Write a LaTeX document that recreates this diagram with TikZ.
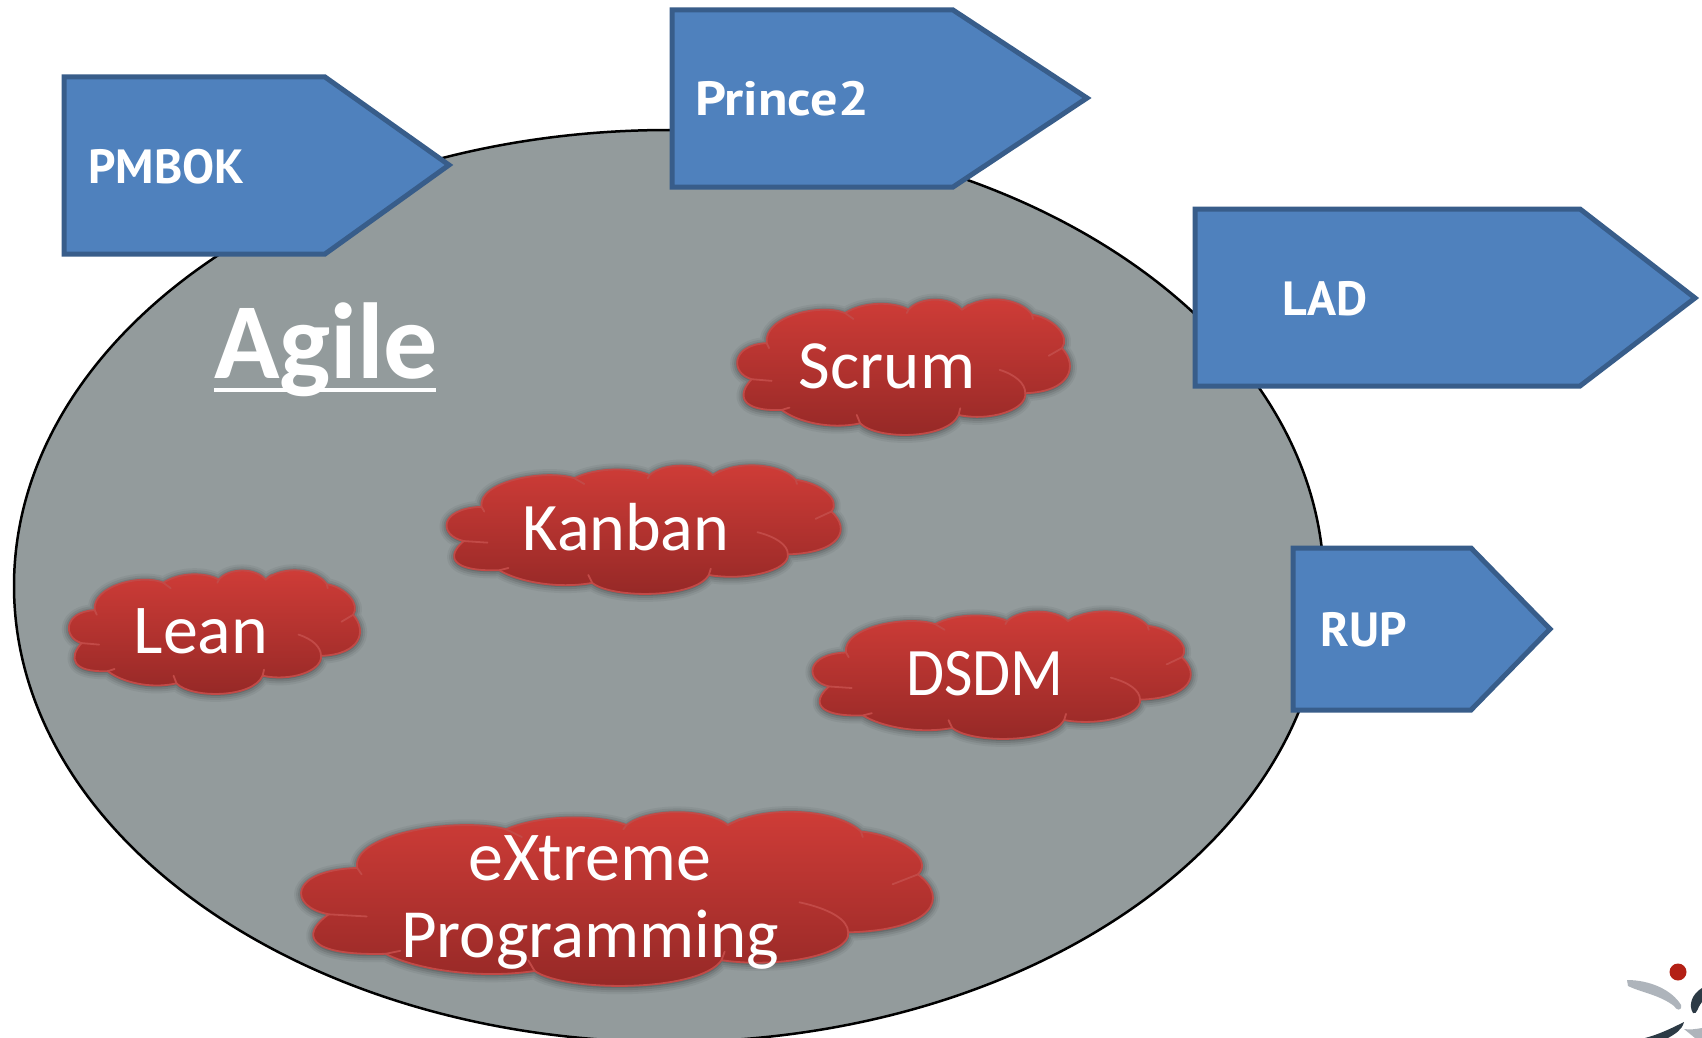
\documentclass[tikz,border=0pt]{standalone}
\usepackage{fontspec}
\usepackage{graphicx}
\setmainfont{Carlito}
\newfontfamily\boxfont{PT Sans}
\newcommand{\cloudoutline}{(140,190) .. controls (130,110) and (300,70) .. (375,100)
 .. controls (430,65) and (520,65) .. (565,90)
 .. controls (600,50) and (690,50) .. (725,90)
 .. controls (790,40) and (900,55) .. (935,105)
 .. controls (1000,115) and (1050,170) .. (1025,205)
 .. controls (1075,260) and (1050,335) .. (915,340)
 .. controls (920,390) and (810,425) .. (715,405)
 .. controls (680,480) and (470,480) .. (420,430)
 .. controls (330,450) and (230,425) .. (185,390)
 .. controls (60,395) and (50,345) .. (95,298)
 .. controls (30,280) and (32,195) .. (140,190) -- cycle}
\newcommand{\cloudshape}[5]{%
\begin{scope}[shift={(#2,#3)},xscale=#4/1007,yscale=#5/410,shift={(-45,-55)}]
 \foreach \wd/\op in {14/0.05,10/0.07,6/0.09,2/0.12}{
  \draw[black,opacity=\op,line width=\wd pt,line join=round,yshift=-3pt] \cloudoutline;
 }
 \shade[top color=cloudtop,bottom color=cloudbot] \cloudoutline;
 \draw[cloudline] \cloudoutline;
 \draw[cloudline] (140,190)--(147,205) (375,100)--(400,118) (725,90)--(745,75)
  (1025,205)--(985,228) (838,270) .. controls (885,285) and (915,310) .. (915,340)
  (715,405)--(720,385) (420,430)--(410,405) (185,390)--(208,383) (95,298)--(155,303)
  (565,90)--(560,100) (935,105)--(938,118);
\end{scope}}
\definecolor{cloudtop}{HTML}{D13D38}
\definecolor{cloudbot}{HTML}{942826}
\definecolor{cloudedge}{HTML}{C24A47}
\definecolor{boxfill}{HTML}{4F81BD}
\definecolor{boxedge}{HTML}{385D8A}
\definecolor{ovalfill}{HTML}{939B9C}
\definecolor{markgrey}{HTML}{AEB4BB}
\definecolor{markdark}{HTML}{2C3A45}
\definecolor{markred}{HTML}{B32015}
\tikzset{
 cloudline/.style={cloudedge,line width=1.8pt,line cap=round,line join=round},
 arrowbox/.style={fill=boxfill,draw=boxedge,line width=5pt,line join=miter},
 boxlabel/.style={text=white,anchor=base west,inner sep=0pt,font=\boxfont\fontsize{48}{48}\selectfont\bfseries},
 cloudlabel/.style={text=white,anchor=base,inner sep=0pt,align=center,font=\fontsize{#1}{#1}\selectfont},
 cloudlabel/.default=70,
}
\begin{document}
\begin{tikzpicture}[x=1pt,y=-1pt]
\useasboundingbox (0,0) rectangle (1702,1038);
\fill[white] (0,0) rectangle (1702,1038);
\begin{scope}
\clip (0,0) rectangle (1702,1038);
\draw[fill=ovalfill,draw=black,line width=2.5pt] (669,586) ellipse [x radius=655,y radius=456];
\end{scope}
\node[text=white,anchor=base west,inner sep=0pt,font=\fontsize{108}{108}\selectfont\bfseries] (agile) at (214,378) {Agile};
\draw[white,line width=3.5pt] (214,390) -- (436,390);
\cloudshape{scrum}{735}{298}{336}{137}
\cloudshape{kanban}{444}{464}{398}{130}
\cloudshape{lean}{67}{569}{294}{125}
\cloudshape{dsdm}{810}{610}{382}{129}
\cloudshape{xp}{297}{810}{638}{176}
\node[cloudlabel=69] (tscrum) at (887,388) {Scrum};
\node[cloudlabel=68] (tkanban) at (626,550) {Kanban};
\node[cloudlabel] (tlean) at (201,653) {Lean};
\node[cloudlabel=68] (tdsdm) at (985,695) {\scalebox{0.91}[1]{DSDM}};
\node[cloudlabel] (txp1) at (590,880) {eXtreme};
\node[cloudlabel=69] (txp2) at (590,957) {Programming};
\draw[arrowbox] (64,77)--(325,77)--(449,165)--(325,254)--(64,254)--cycle;
\draw[arrowbox] (672,10)--(953,10)--(1087,98)--(953,187)--(672,187)--cycle;
\draw[arrowbox] (1195,209)--(1580,209)--(1695,298)--(1580,386)--(1195,386)--cycle;
\draw[arrowbox] (1293,548)--(1471,548)--(1550,629)--(1471,710)--(1293,710)--cycle;
\node[boxlabel] (pmbok) at (88,183) {PMBOK};
\node[boxlabel] (prince) at (695,116) {\scalebox{1.13}[1]{Prince2}};
\node[boxlabel] (lad) at (1282,315) {LAD};
\node[boxlabel] (rup) at (1320,646) {RUP};
\fill[markred] (1678,972) circle (8.5);
\fill[markgrey] (1627,980) .. controls (1650,980) and (1672,990) .. (1681,1005) .. controls (1682,1012) and (1676,1010) .. (1674,1006) .. controls (1660,995) and (1640,992) .. (1628,986) -- cycle;
\fill[markdark] (1702,988) .. controls (1692,994) and (1688,1005) .. (1693,1013) .. controls (1697,1015) and (1697,1008) .. (1702,1002) -- cycle;
\fill[markdark] (1645,1038) .. controls (1660,1034) and (1672,1028) .. (1684,1022) .. controls (1682,1030) and (1675,1034) .. (1668,1038) -- cycle;
\fill[markgrey] (1684,1029) .. controls (1690,1030) and (1696,1029) .. (1702,1028) -- (1702,1038) -- (1695,1038) -- cycle;
\end{tikzpicture}
\end{document}
